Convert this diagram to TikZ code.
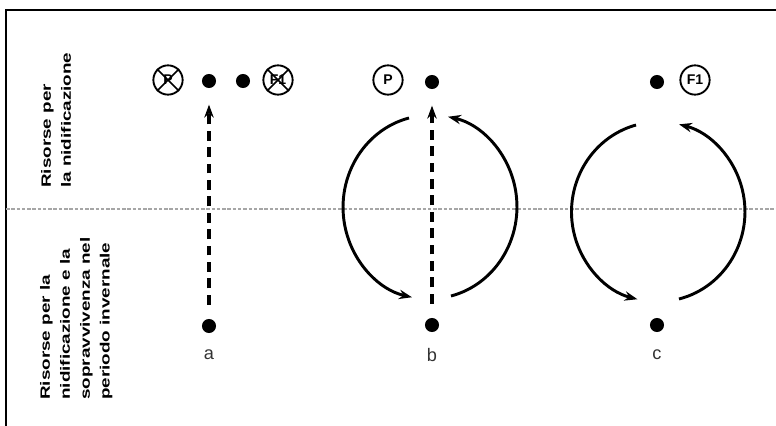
\documentclass[tikz,border=0pt]{standalone}
\usepackage{fontspec}
\setmainfont{Liberation Sans}
\newfontfamily\sidefont[FakeStretch=1.4]{Liberation Sans}
\usetikzlibrary{arrows.meta}

\begin{document}
\begin{tikzpicture}[x=0.03cm, y=-0.03cm,
  dot/.style={circle, fill=black, inner sep=0pt, minimum size=12pt},
  tag/.style={circle, draw=black, line width=1.6pt, inner sep=0pt, minimum size=25pt, font=\bfseries\fontsize{12}{14}\selectfont},
  nix/.style={line width=1.3pt},
  side/.style={rotate=90, align=left, inner sep=0pt, anchor=north west, font=\sidefont\bfseries\fontsize{11.5}{17}\selectfont},
  lbl/.style={font=\fontsize{15.5}{18}\selectfont, text=black!80},
  migr/.style={-{Stealth[length=11pt, width=8pt]}, line width=2.5pt},
  stay/.style={-{Stealth[length=11pt, width=8pt]}, line width=2.6pt, dash pattern=on 8.5pt off 5.5pt, shorten <=12pt, shorten >=14pt},
  divider/.style={black!35, line width=1.1pt, dash pattern=on 3pt off 1.5pt}
]
  \useasboundingbox (0,0) rectangle (776,426);
  \draw[line width=1.7pt] (6,426) -- (6,10) -- (776,10);
  \draw[divider] (6,209) -- (776,209);

  % side texts
  \node[side] (upper) at (41,188) {Risorse per\\la nidificazione};
  \node[side] (lower) at (40,400) {Risorse per la\\nidificazione e la\\sopravvivenza nel\\periodo invernale};

  % a
  \node[tag] (pa) at (168,80) {P};
  \draw[nix] (pa.45) -- (pa.225) (pa.135) -- (pa.315);
  \node[dot] (atop) at (209,81) {};
  \node[dot] (aside) at (243,81) {};
  \node[tag] (fa) at (278,80) {F1};
  \draw[nix] (fa.45) -- (fa.225) (fa.135) -- (fa.315);
  \node[dot] (abot) at (209,326) {};
  \node[lbl] (la) at (209,355) {a};
  \draw[stay] (abot) -- (atop);

  % b
  \node[tag] (pb) at (388,80) {P};
  \node[dot] (btop) at (432,82) {};
  \node[dot] (bbot) at (432,325) {};
  \node[lbl] (lb) at (432,355) {b};
  \draw[stay] (bbot) -- (btop);
  \coordinate (bl) at (409,118);
  \coordinate (br) at (451,296);
  \draw[migr] (bl) arc[start angle=256, end angle=102, x radius=87, y radius=92];
  \draw[migr] (br) arc[start angle=76, end angle=-78, x radius=87, y radius=92];

  % c
  \node[dot] (ctop) at (657,82) {};
  \node[tag] (fc) at (695,80) {F1};
  \node[dot] (cbot) at (657,325) {};
  \node[lbl] (lc) at (657,355) {c};
  \coordinate (cl) at (636,125);
  \coordinate (cr) at (679,299);
  \draw[migr] (cl) arc[start angle=255, end angle=104, x radius=87, y radius=90];
  \draw[migr] (cr) arc[start angle=76, end angle=-76, x radius=87, y radius=90];
\end{tikzpicture}
\end{document}
